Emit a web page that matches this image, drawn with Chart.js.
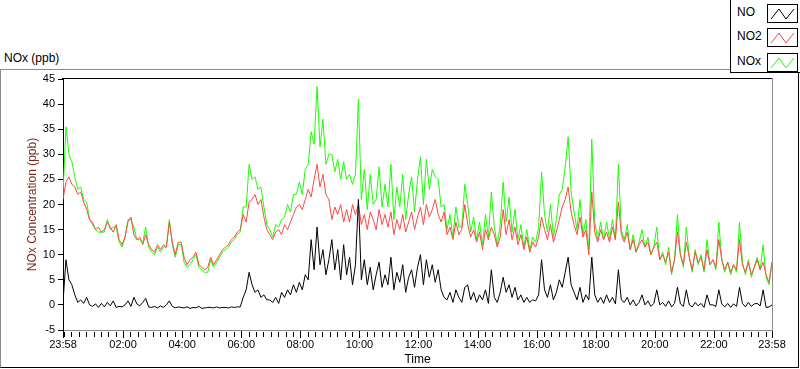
<!DOCTYPE html>
<html>
<head>
<meta charset="utf-8">
<script src="https://cdn.jsdelivr.net/npm/chart.js@4.4.0/dist/chart.umd.min.js"></script>
<style>
  html, body { margin: 0; padding: 0; background: #fff; }
  body { width: 800px; height: 369px; position: relative; overflow: hidden;
         font-family: "Liberation Sans", Arial, sans-serif; font-size: 12px; color: #000; }
  #frame { position: absolute; left: 0; top: 69px; width: 797px; height: 297px;
           border-top: 1px solid #8c8c8c; border-left: 1px solid #8c8c8c;
           border-right: 1px solid #000; border-bottom: 1px solid #000; }
  #plotTitle { position: absolute; left: 4px; top: 51px; line-height: 14px; }
  #chart { position: absolute; left: 0; top: 0; }
  #legend { position: absolute; left: 730px; top: -1px; width: 80px; height: 72px;
            background: #fff; border: 1px solid #000; }
  .lg-text { position: absolute; left: 6px; height: 19px; line-height: 19px; }
  .lg-box { position: absolute; left: 36px; }
</style>
</head>
<body>
<div id="frame"></div>
<div id="plotTitle">NOx (ppb)</div>
<canvas id="chart" width="800" height="369"></canvas>
<div id="legend"></div>
<script>
// one sample every 6 minutes, starting at 23:58
const stepMinutes = 6;
const xTickValues = [0, 122, 242, 362, 482, 602, 722, 842, 962, 1082, 1202, 1322, 1440];
const xTickLabels = ['23:58', '02:00', '04:00', '06:00', '08:00', '10:00', '12:00',
                     '14:00', '16:00', '18:00', '20:00', '22:00', '23:58'];
const seriesNames = ['NO', 'NO2', 'NOx'];
const seriesColors = ['#000000', '#ff4646', '#19ff00'];

const no = [
  0.5, 9.0, 5.0, 4.0, 2.0, 0.5, 1.0, 0.3, 1.5, 0.0,
  -0.3, 0.2, -0.5, 0.3, -0.4, 0.5, -0.2, 0.8, -0.5, -0.3,
  -0.4, 0.0, 0.8, -0.3, 1.5, 0.2, -0.2, 0.5, 1.3, -0.4,
  -0.5, -0.3, -0.6, -0.2, -0.5, 0.0, 0.8, -0.3, -0.6, -0.4,
  -0.5, -0.6, -0.4, -0.7, -0.5, -0.6, -0.3, -0.7, -0.6, -0.5,
  -0.5, -0.6, -0.4, -0.6, -0.5, -0.5, -0.6, -0.4, -0.5, -0.4,
  -0.4, 1.5, 3.0, 6.5, 4.0, 2.5, 3.0, 1.5, 2.0, 1.0,
  1.0, 0.5, 1.5, 0.3, 2.5, 1.5, 3.0, 2.0, 4.0, 2.5,
  4.5, 3.0, 6.0, 5.0, 13.0, 7.0, 15.5, 8.0, 11.0, 6.0,
  9.0, 13.0, 7.0, 11.0, 5.0, 12.0, 6.0, 9.5, 4.0, 8.0,
  21.0, 5.0, 9.0, 4.0, 7.5, 3.0, 6.0, 8.5, 3.5, 6.0,
  4.0, 9.5, 3.0, 6.5, 4.5, 8.0, 2.5, 5.5, 7.0, 3.5,
  7.5, 10.0, 4.0, 9.0, 5.5, 8.0, 4.5, 7.0, 3.0, 1.5,
  1.0, 2.5, 0.5, 3.0, 1.5, 0.5, 3.5, 4.0, 1.0, 2.5,
  0.5, 2.0, 1.0, 3.0, 0.3, 7.0, 1.5, 0.5, 2.5, 5.5,
  2.5, 4.0, 1.5, 3.5, 1.0, 2.0, 0.5, 1.5, 0.5, 1.0,
  0.8, 2.0, 9.0, 3.0, 1.5, 4.0, 1.0, 2.5, 5.0, 3.5,
  6.5, 9.5, 4.0, 2.5, 1.0, 3.5, 0.5, 2.0, 1.0, 9.5,
  2.0, 0.5, 1.5, 0.3, 2.0, 0.5, 1.5, 0.2, 7.0, 1.0,
  0.5, 1.5, 0.0, 1.0, -0.2, 0.5, 2.0, 0.0, 0.8, -0.3,
  0.3, 3.0, 0.0, 0.5, -0.3, 0.8, -0.4, 0.3, 3.5, 0.2,
  -0.3, 3.0, 0.0, -0.4, 0.5, -0.2, 0.3, -0.5, 2.0, 0.0,
  0.0, -0.3, 3.0, 0.2, -0.4, 0.3, -0.5, 0.2, -0.3, 3.5,
  0.3, -0.4, 0.5, -0.3, 0.2, 0.3, -0.2, 3.0, -0.5, -0.4,
  0.0
];

const no2 = [
  21.0, 24.5, 25.5, 24.0, 23.5, 22.0, 22.5, 20.5, 19.0, 17.0,
  16.5, 15.0, 15.5, 14.5, 15.0, 16.5, 15.5, 14.5, 16.0, 13.0,
  12.0, 13.5, 16.5, 17.5, 14.0, 13.0, 13.5, 12.0, 14.0, 12.0,
  11.0, 10.5, 12.0, 11.0, 12.0, 11.5, 16.5, 12.5, 10.0, 12.5,
  12.5, 9.5, 8.0, 9.0, 9.5, 10.5, 8.0, 7.5, 7.0, 7.5,
  9.5, 8.0, 9.0, 10.0, 11.0, 11.5, 12.0, 13.0, 13.5, 14.5,
  15.0, 18.0, 16.5, 20.5, 21.0, 22.0, 20.0, 21.0, 17.5, 15.0,
  14.0, 13.0, 14.5, 15.0, 14.0, 16.0, 15.0, 16.5, 18.0, 19.5,
  20.0, 19.0, 21.0, 23.0, 21.5, 25.0, 28.0, 23.5, 26.0, 22.0,
  21.0, 17.0, 19.5, 18.0, 20.0, 16.5, 19.0, 16.5, 20.0, 18.0,
  20.0, 16.0, 18.0, 15.0, 18.5, 17.0, 15.0, 19.0, 16.0, 18.0,
  15.5, 18.5, 14.0, 17.0, 15.0, 18.0, 14.5, 16.5, 18.5, 15.0,
  17.5, 19.5, 16.0, 20.0, 17.5, 19.0, 21.0, 18.0, 16.5, 18.5,
  14.0, 15.5, 13.0, 16.5, 14.0, 15.0, 20.0, 16.0, 13.5, 15.0,
  12.5, 14.5, 11.0, 15.0, 13.0, 15.5, 14.0, 11.5, 13.5, 19.0,
  14.0, 17.0, 13.0, 15.5, 12.0, 14.0, 11.0, 13.5, 10.5, 12.5,
  11.5, 13.5, 17.5, 15.0, 13.0, 16.0, 12.5, 14.5, 17.0, 19.5,
  21.0, 23.5, 18.5, 16.0, 14.0, 17.5, 13.5, 15.0, 10.0, 22.5,
  14.5, 12.5, 15.0, 13.0, 14.5, 12.5, 15.5, 13.0, 20.5, 14.0,
  12.5, 14.5, 11.0, 13.0, 10.5, 12.0, 13.0, 11.5, 12.5, 10.0,
  11.5, 12.5, 9.0, 10.0, 8.5, 10.5, 6.5, 9.0, 14.5, 10.0,
  8.0, 12.5, 9.5, 7.0, 10.5, 8.5, 9.5, 7.0, 11.0, 8.0,
  9.0, 7.5, 13.0, 9.0, 7.0, 8.5, 6.5, 8.0, 7.0, 13.0,
  8.0, 6.5, 8.5, 6.0, 7.5, 9.0, 7.0, 8.5, 6.0, 4.5,
  8.5
];

const nox = [
  22.0, 35.5, 30.0, 28.5, 25.5, 23.0, 23.5, 21.0, 20.5, 17.0,
  16.0, 15.0, 14.5, 14.5, 14.5, 17.0, 15.0, 15.5, 15.5, 12.5,
  11.5, 13.5, 17.0, 17.0, 15.5, 13.0, 13.0, 12.5, 15.5, 11.5,
  10.5, 10.0, 11.5, 10.5, 11.5, 11.5, 17.0, 12.0, 9.5, 12.0,
  12.0, 8.5, 7.5, 8.0, 9.0, 10.0, 7.5, 7.0, 6.5, 6.5,
  9.0, 7.5, 8.5, 9.5, 10.5, 11.0, 11.5, 12.5, 13.0, 14.0,
  14.5, 19.5, 19.5, 28.0, 25.0, 25.5, 23.0, 23.5, 19.5, 16.0,
  15.0, 13.5, 16.0, 15.5, 17.0, 17.5, 20.0, 18.5, 22.0, 22.0,
  24.5, 22.0, 27.0, 28.0, 34.5, 32.0, 43.5, 31.5, 37.0, 28.0,
  30.0, 30.0, 26.5, 29.0, 25.0, 28.5, 25.0, 26.0, 24.0, 26.0,
  41.0, 21.0, 27.0, 19.0, 26.0, 20.0, 21.0, 27.5, 19.5, 24.0,
  19.5, 28.0, 17.0, 23.5, 19.5, 26.0, 17.0, 22.0, 25.5, 18.5,
  25.0, 29.5, 20.0, 29.0, 23.0, 27.0, 25.5, 25.0, 19.5, 20.0,
  15.0, 18.0, 13.5, 19.5, 15.5, 15.5, 24.0, 20.0, 14.5, 17.5,
  13.0, 16.5, 12.0, 18.0, 13.5, 22.5, 15.5, 12.0, 16.0, 24.5,
  16.5, 21.5, 14.5, 19.0, 13.0, 16.0, 11.5, 15.0, 11.0, 13.5,
  12.5, 15.5, 26.5, 18.0, 14.5, 20.0, 13.5, 17.0, 22.0, 23.0,
  27.5, 33.5, 22.5, 18.5, 15.0, 21.0, 14.0, 17.0, 11.0, 33.0,
  16.5, 13.0, 16.5, 13.0, 16.5, 13.0, 17.0, 13.0, 28.0, 15.0,
  13.0, 16.0, 11.0, 14.0, 10.5, 12.5, 15.0, 11.5, 13.5, 10.0,
  11.5, 15.5, 9.0, 10.5, 8.0, 11.5, 6.0, 9.0, 18.0, 10.0,
  7.5, 15.5, 9.5, 6.5, 11.0, 8.0, 10.0, 6.5, 13.0, 8.0,
  9.0, 7.0, 16.5, 9.0, 6.5, 8.5, 6.0, 8.0, 6.5, 16.5,
  8.5, 6.0, 9.0, 5.5, 7.5, 9.5, 7.0, 12.0, 5.5, 4.0,
  8.5
];

const toPoints = arr => arr.map((v, i) => ({ x: i * stepMinutes, y: v }));

// html legend, boxes with a small zigzag like the original
const legend = document.getElementById('legend');
const rowTops = [4, 28, 53];
seriesNames.forEach((name, i) => {
  const t = document.createElement('div');
  t.className = 'lg-text';
  t.style.top = (rowTops[i] - 1) + 'px';
  t.textContent = name;
  legend.appendChild(t);
  const box = document.createElement('div');
  box.className = 'lg-box';
  box.style.top = rowTops[i] + 'px';
  box.innerHTML = '<svg width="31" height="19"><rect x="0.5" y="0.5" width="30" height="18" fill="#fff" stroke="#000"/>' +
    '<polyline points="4,15 12,5 19,15 27,5" fill="none" stroke="' + seriesColors[i] + '" stroke-width="1"/></svg>';
  legend.appendChild(box);
});

// top/right plot frame and the 15 minute tick marks on the time axis
const frameAndTicks = {
  id: 'frameAndTicks',
  afterDraw(chart) {
    const { ctx, chartArea: a, scales: { x } } = chart;
    ctx.save();
    ctx.lineWidth = 1;
    ctx.strokeStyle = '#000';
    ctx.beginPath();
    ctx.moveTo(a.left - 1, a.top - 0.5);
    ctx.lineTo(a.right, a.top - 0.5);
    ctx.stroke();
    ctx.strokeStyle = '#8c8c8c';
    ctx.beginPath();
    ctx.moveTo(a.right + 0.5, a.top - 1);
    ctx.lineTo(a.right + 0.5, a.bottom);
    ctx.stroke();
    ctx.strokeStyle = '#000';
    ctx.beginPath();
    for (let m = 2; m < 1440; m += 15) {
      const px = Math.round(x.getPixelForValue(m)) + 0.5;
      ctx.moveTo(px, a.bottom + 2);
      ctx.lineTo(px, a.bottom + 7);
    }
    xTickValues.forEach(v => {
      const px = Math.round(x.getPixelForValue(v)) + 0.5;
      ctx.moveTo(px, a.bottom + 1);
      ctx.lineTo(px, a.bottom + 8);
    });
    ctx.stroke();
    ctx.restore();
  }
};

Chart.defaults.font.family = '"Liberation Sans", Arial, sans-serif';

new Chart(document.getElementById('chart'), {
  type: 'line',
  data: {
    datasets: [no, no2, nox].map((arr, i) => ({
      label: seriesNames[i],
      data: toPoints(arr),
      borderColor: seriesColors[i],
      borderWidth: 1,
      pointRadius: 0,
      tension: 0
    }))
  },
  options: {
    responsive: false,
    animation: false,
    devicePixelRatio: 1,
    events: [],
    layout: { padding: { top: 79, right: 28, left: 0, bottom: 0 } },
    plugins: { legend: { display: false }, tooltip: { enabled: false } },
    scales: {
      x: {
        type: 'linear',
        min: 0,
        max: 1440,
        afterBuildTicks: s => { s.ticks = xTickValues.map(v => ({ value: v })); },
        afterFit: s => { s.height = 39; },
        ticks: {
          autoSkip: false,
          maxRotation: 0,
          padding: 8,
          color: '#000',
          font: { size: 11 },
          callback: v => xTickLabels[xTickValues.indexOf(v)]
        },
        grid: { display: false, drawTicks: false },
        border: { color: '#8c8c8c', width: 1 },
        title: { display: true, text: 'Time', color: '#000', font: { size: 12 }, padding: { top: 0, bottom: 2 } }
      },
      y: {
        min: -5,
        max: 45,
        afterFit: s => { s.width = 63; },
        ticks: { stepSize: 5, padding: 3, color: '#000', font: { size: 11 } },
        grid: { drawOnChartArea: false, tickLength: 5, tickColor: '#000' },
        border: { color: '#000', width: 1 },
        title: { display: true, text: 'NOx Concentration (ppb)', color: '#782a22', font: { size: 12 },
                 padding: { top: 25, bottom: 0 } }
      }
    }
  },
  plugins: [frameAndTicks]
});
</script>
</body>
</html>
